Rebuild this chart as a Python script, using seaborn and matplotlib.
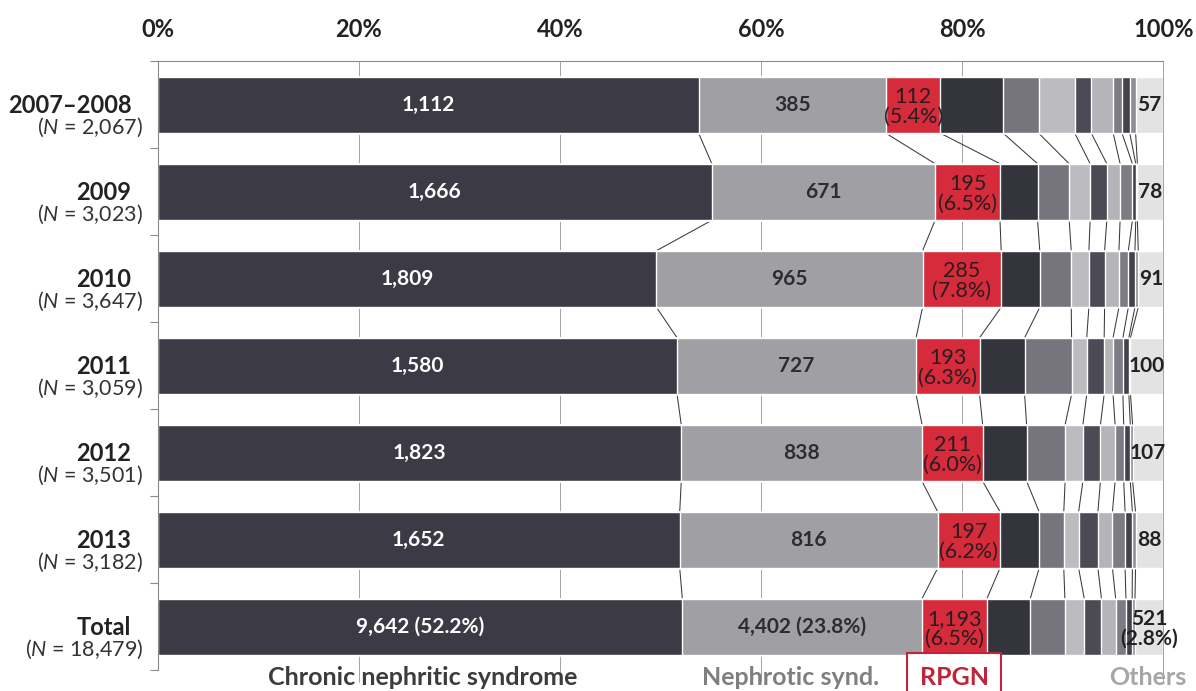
import numpy as np
import pandas as pd
import matplotlib
matplotlib.use("Agg")
import matplotlib.pyplot as plt
import seaborn as sns

# ---- data: biopsy counts per clinical diagnosis, by registry period ----
rows = ["2007–2008", "2009", "2010", "2011", "2012", "2013", "Total"]
n_cases = [2067, 3023, 3647, 3059, 3501, 3182, 18479]

chronic_nephritic = [1112, 1666, 1809, 1580, 1823, 1652, 9642]
nephrotic = [385, 671, 965, 727, 838, 816, 4402]
rpgn = [112, 195, 285, 193, 211, 197, 1193]
dx_4 = [129, 113, 140, 137, 153, 124, 796]
dx_5 = [73, 95, 114, 143, 134, 78, 637]
dx_6 = [74, 63, 64, 46, 62, 47, 356]
dx_7 = [34, 50, 57, 53, 61, 61, 316]
dx_8 = [45, 40, 52, 27, 51, 46, 261]
dx_9 = [18, 37, 34, 30, 30, 40, 189]
dx_10 = [16, 10, 24, 18, 23, 23, 114]
dx_11 = [12, 5, 12, 5, 8, 10, 52]
others = [57, 78, 91, 100, 107, 88, 521]

x_ticks = [0, 20, 40, 60, 80, 100]
bottom_labels = ["Chronic nephritic syndrome", "Nephrotic synd.", "RPGN", "Others"]

# ---- styling ----
segments = [chronic_nephritic, nephrotic, rpgn, dx_4, dx_5, dx_6, dx_7,
            dx_8, dx_9, dx_10, dx_11, others]
colors = ["#3c3b45", "#a09fa4", "#d52b3b", "#34343c", "#76757d", "#bcbbc0",
          "#4b4a55", "#b5b4b9", "#7d7c84", "#43424c", "#8e8d93", "#e3e3e3"]
BAR_H = 0.65
FONT = "Lato"

sns.set_theme(style="white")
plt.rcParams["font.family"] = [FONT, "DejaVu Sans"]
plt.rcParams["mathtext.fontset"] = "custom"
plt.rcParams["mathtext.it"] = f"{FONT}:italic"
plt.rcParams["mathtext.rm"] = FONT

fig = plt.figure(figsize=(11.96, 6.91), dpi=100)
ax = fig.add_axes([0.1317, 0.0297, 0.8410, 0.8813])

n_arr = np.array(n_cases, dtype=float)
pcts = [np.array(s) / n_arr * 100 for s in segments]
cums = np.cumsum(pcts, axis=0)

# stacked bars: draw cumulative extents from the outermost inward
for right, color in reversed(list(zip(cums, colors))):
    sns.barplot(x=right, y=rows, orient="h", color=color, saturation=1,
                width=BAR_H, errorbar=None, ax=ax, zorder=2)

ax.set_xlim(0, 100)
ax.set_ylim(6.5, -0.5)
ax.set_xlabel("")
ax.set_ylabel("")

# vertical grid lines
ax.vlines(x_ticks[1:], -0.5, 6.63, color="#a3a3a3", lw=0.7, zorder=1,
          clip_on=False)

# connectors between segment boundaries of neighbouring bars
for i in range(len(rows) - 1):
    for k in range(len(segments) - 1):
        ax.plot([cums[k][i], cums[k][i + 1]],
                [i + BAR_H / 2, i + 1 - BAR_H / 2],
                color="#3a3a3a", lw=0.75, zorder=1.5, solid_capstyle="butt")

# axes decoration
ax.xaxis.tick_top()
ax.set_xticks(x_ticks)
ax.set_xticklabels([f"{t}%" for t in x_ticks], fontsize=17, fontweight="bold",
                   color="#222222")
ax.tick_params(axis="x", length=0, pad=15)
ax.set_yticks(range(len(rows)))
ax.set_yticklabels([])
ax.set_yticks(np.arange(-0.5, len(rows), 1), minor=True)
ax.tick_params(axis="y", which="major", length=0)
ax.tick_params(axis="y", which="minor", length=6, width=0.8, color="#8a8a8a",
               direction="out", left=True)
for side in ["right", "bottom"]:
    ax.spines[side].set_visible(False)
for side in ["top", "left"]:
    ax.spines[side].set_color("#8a8a8a")
    ax.spines[side].set_linewidth(0.8)

# row labels
for i, (name, n) in enumerate(zip(rows, n_cases)):
    ax.text(-2.6, i + 0.01, name, ha="right", va="center", fontsize=17,
            fontweight="bold", color="#222222", clip_on=False)
    ax.text(-1.4, i + 0.26, f"($\\mathit{{N}}$ = {n:,})", ha="right",
            va="center", fontsize=15.5, color="#333333", clip_on=False)

# value labels inside the bars
last = len(rows) - 1
for i in range(len(rows)):
    starts = [0.0] + [c[i] for c in cums[:-1]]
    mids = [(s + c[i]) / 2 for s, c in zip(starts, cums)]
    if i == last:
        lab_c = f"{chronic_nephritic[i]:,} ({pcts[0][i]:.1f}%)"
        lab_n = f"{nephrotic[i]:,} ({pcts[1][i]:.1f}%)"
        lab_o = f"{others[i]:,}\n({pcts[-1][i]:.1f}%)"
    else:
        lab_c = f"{chronic_nephritic[i]:,}"
        lab_n = f"{nephrotic[i]:,}"
        lab_o = f"{others[i]:,}"
    ax.text(mids[0], i, lab_c, ha="center", va="center", fontsize=15,
            fontweight="bold", color="white", zorder=5)
    ax.text(mids[1], i, lab_n, ha="center", va="center", fontsize=15,
            fontweight="bold", color="#2c2c33", zorder=5)
    ax.text(mids[2], i + 0.02, f"{rpgn[i]:,}\n({pcts[2][i]:.1f}%)",
            ha="center", va="center", fontsize=15.5, color="#2a1c20",
            linespacing=0.98, zorder=5)
    ax.text(mids[-1], i + (0.02 if i == last else 0), lab_o, ha="center",
            va="center", fontsize=15, fontweight="bold", color="#222222",
            linespacing=0.98, zorder=5, clip_on=False)

# category captions under the chart
cap_y = 6.665
cap_kw = dict(ha="center", va="baseline", fontsize=18, fontweight="bold",
              clip_on=False)
ax.text(26.4, cap_y, bottom_labels[0], color="#3c3c3c", **cap_kw)
ax.text(62.9, cap_y, bottom_labels[1], color="#7f7f7f", **cap_kw)
ax.text(79.2, cap_y, bottom_labels[2], color="#c0243a",
        bbox=dict(boxstyle="square,pad=0.5", fc="white", ec="#c0243a",
                  lw=1.5), **cap_kw)
ax.text(98.4, cap_y, bottom_labels[3], color="#a6a6a6", **cap_kw)

fig.savefig("out.png", dpi=100)
